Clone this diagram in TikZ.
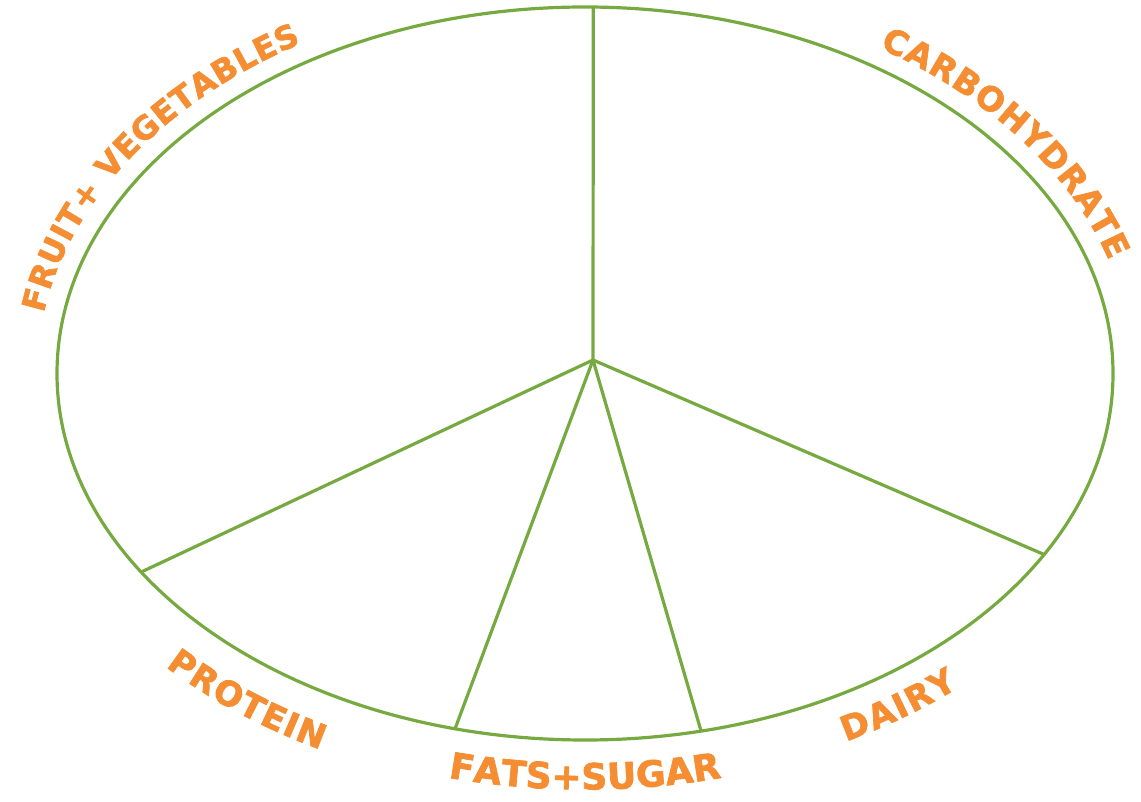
\documentclass[tikz,border=0pt]{standalone}
\usepackage{fontspec}
\usetikzlibrary{decorations.text}
\newfontfamily\lblfont{DejaVu Sans}[BoldFeatures={FakeBold=2}]
\definecolor{plategreen}{RGB}{118,170,64}
\definecolor{labelorange}{RGB}{245,142,51}
\newcommand{\platelabel}[1]{\lblfont\bfseries\fontsize{#1}{#1}\selectfont}
\begin{document}
\begin{tikzpicture}[x=1pt,y=1pt,
  plate/.style={draw=plategreen,line width=3.2pt},
  lbl/.style={decorate,decoration={text along path,text align=fit to path,
    text color=labelorange,text={#1}}}]
  \useasboundingbox (0,0) rectangle (1141,801);
  \coordinate (centre) at (585,427.5);
  \coordinate (hub) at (593,441);
  % plate rim and the five sections
  \draw[plate] (centre) ellipse[x radius=528,y radius=366.5];
  \path (centre) ++(89.1:528 and 366.5) coordinate (topend);
  \path (centre) ++(212.8:528 and 366.5) coordinate (leftend);
  \path (centre) ++(255.75:528 and 366.5) coordinate (lowleftend);
  \path (centre) ++(282.7:528 and 366.5) coordinate (lowrightend);
  \path (centre) ++(330.4:528 and 366.5) coordinate (rightend);
  \foreach \e in {topend,leftend,lowleftend,lowrightend,rightend}
    \draw[plate] (hub) -- (\e);
  % labels round the rim
  \path[lbl={|\platelabel{32}|FRUIT+ VEGETABLES}] (centre) ++(171:548 and 386)
    arc[start angle=171,end angle=121.2,x radius=548,y radius=386];
  \path[lbl={|\platelabel{33.5}|CARBOHYDRATE}] (centre) ++(57.5:548 and 386)
    arc[start angle=57.5,end angle=17,x radius=548,y radius=386];
  \path[lbl={|\platelabel{34}|PROTEIN}] (centre) ++(224:583 and 422)
    arc[start angle=224,end angle=243,x radius=583,y radius=422];
  \path[lbl={|\platelabel{36}|FATS+SUGAR}] (centre) ++(256.3:578 and 416)
    arc[start angle=256.3,end angle=283.7,x radius=578,y radius=416];
  \path[lbl={|\platelabel{34}|DAIRY}] (centre) ++(297:575 and 413)
    arc[start angle=297,end angle=310.5,x radius=575,y radius=413];
\end{tikzpicture}
\end{document}
